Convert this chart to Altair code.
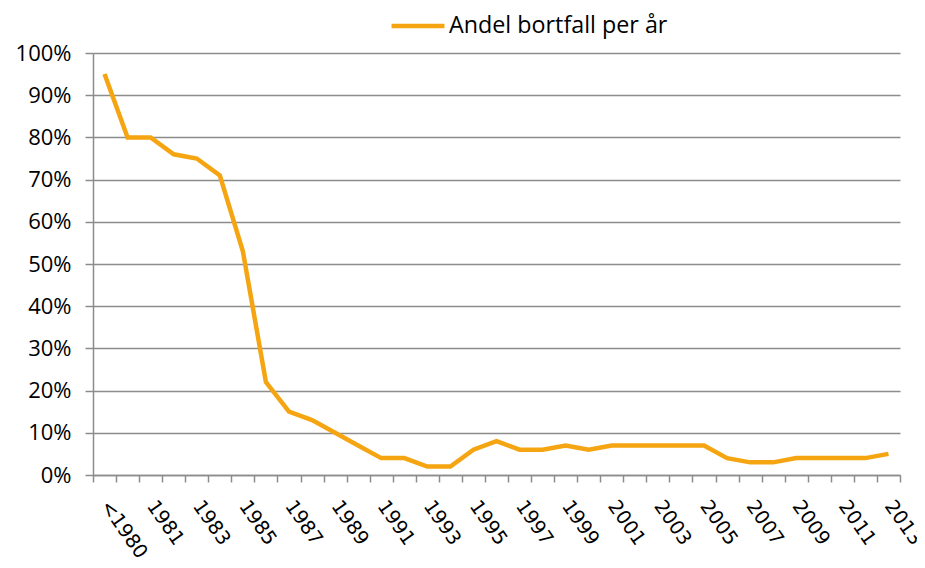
import altair as alt
import pandas as pd

years = ["<1980.", "1980", "1981", "1982", "1983", "1984", "1985", "1986", "1987", "1988",
         "1989", "1990", "1991", "1992", "1993", "1994", "1995", "1996", "1997", "1998",
         "1999", "2000", "2001", "2002", "2003", "2004", "2005", "2006", "2007", "2008",
         "2009", "2010", "2011", "2012", "2013"]
share = [0.95, 0.80, 0.80, 0.76, 0.75, 0.71, 0.53, 0.22, 0.15, 0.13,
         0.10, 0.07, 0.04, 0.04, 0.02, 0.02, 0.06, 0.08, 0.06, 0.06,
         0.07, 0.06, 0.07, 0.07, 0.07, 0.07, 0.07, 0.04, 0.03, 0.03,
         0.04, 0.04, 0.04, 0.04, 0.05]
series = "Andel bortfall per år"

df = pd.DataFrame({"year": years, "share": share, "series": [series] * len(years)})

YFONT = "Open Sans"
XFONT = "DejaVu Sans"
GRAY = "#8c8c8c"

chart = alt.Chart(df).mark_line(strokeWidth=4.5, strokeJoin="miter").encode(
    x=alt.X("year:N", sort=years, title=None,
            scale=alt.Scale(type="band", paddingInner=0, paddingOuter=0),
            axis=alt.Axis(labelAngle=55, labelAlign="left", labelBaseline="middle",
                          tickBand="extent", labelFontSize=19.5, labelFont=XFONT,
                          labelColor="black", labelPadding=20, labelOverlap=False,
                          labelLimit=200,
                          labelExpr="toNumber(datum.label) % 2 == 0 ? '' : datum.label",
                          domainColor=GRAY, domainWidth=1.5, tickColor=GRAY,
                          tickWidth=1.5, tickSize=7, grid=False)),
    y=alt.Y("share:Q", title=None,
            scale=alt.Scale(domain=[0, 1]),
            axis=alt.Axis(format=".0%", values=[i / 10 for i in range(11)],
                          labelFontSize=22, labelFont=YFONT, labelColor="black",
                          labelPadding=14, tickSize=8, tickColor=GRAY, tickWidth=1.5,
                          domainColor=GRAY, domainWidth=1.5,
                          gridColor=GRAY, gridWidth=1.5)),
    color=alt.Color("series:N", scale=alt.Scale(range=["#F5A511"]),
                    legend=alt.Legend(title=None, orient="none", legendX=296, legendY=-56,
                                      symbolType="stroke", symbolSize=2800,
                                      symbolStrokeWidth=4.5, labelFontSize=23.3,
                                      labelFont=YFONT, labelColor="black", labelOffset=2,
                                      labelLimit=400)),
).properties(
    width=807, height=422,
    autosize=alt.AutoSizeParams(type="none"),
    padding={"left": 85, "top": 45, "right": 17, "bottom": 85},
).configure_view(stroke=None)

chart.save("out.html", embed_options={"renderer": "svg", "actions": False})
